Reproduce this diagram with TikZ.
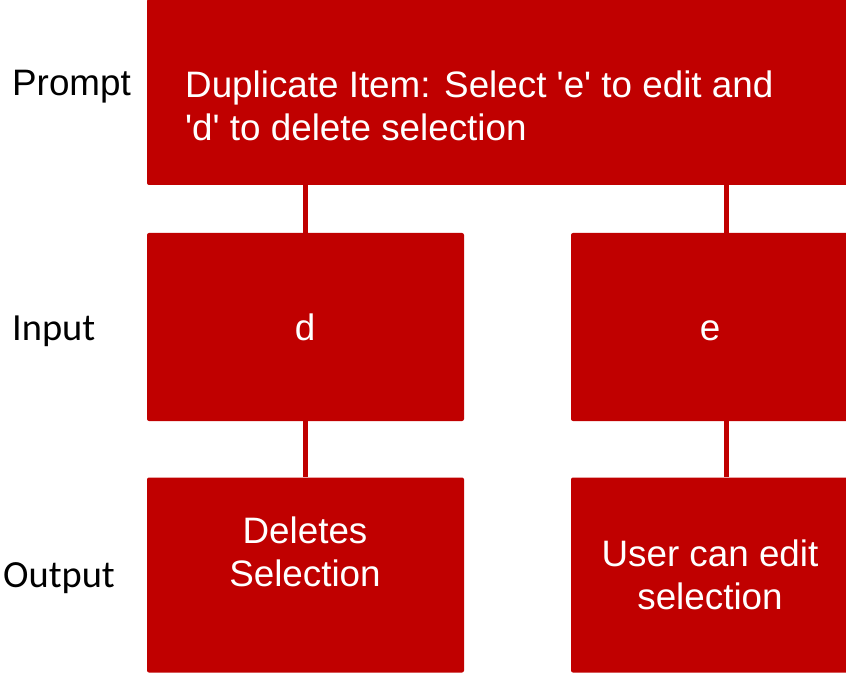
\documentclass[tikz,border=0pt]{standalone}
\usepackage{fontspec}
\setmainfont{Liberation Sans}[Ligatures=TeXOff]
\newfontfamily\rowfont{Carlito}
\definecolor{boxred}{HTML}{C00000}
\begin{document}
\begin{tikzpicture}[x=1pt,y=-1pt,
  box/.style={fill=boxred,draw=none,rounded corners=2pt,inner sep=0pt},
  link/.style={draw=boxred,line width=5pt},
  boxtext/.style={text=white,inner sep=0pt,font=\fontsize{36.8}{43}\selectfont},
  rowlabel/.style={text=black,inner sep=0pt,anchor=base west}]
\useasboundingbox (0,0) rectangle (846,676);
% boxes
\node[box,minimum width=713pt,minimum height=186pt] (top) at (503.5,92) {};
\node[box,minimum width=317pt,minimum height=188pt] (inD) at (305.5,327) {};
\node[box,minimum width=279pt,minimum height=188pt] (inE) at (710.5,327) {};
\node[box,minimum width=317pt,minimum height=195pt] (outD) at (305.5,575) {};
\node[box,minimum width=279pt,minimum height=195pt] (outE) at (710.5,575) {};
% connectors
\coordinate (jD) at (305,0);
\coordinate (jE) at (726,0);
\draw[link] (jD |- top.south) -- (jD |- inD.north);
\draw[link] (jE |- top.south) -- (jE |- inE.north);
\draw[link] (jD |- inD.south) -- (jD |- outD.north);
\draw[link] (jE |- inE.south) -- (jE |- outE.north);
% box texts
\node[boxtext,anchor=north west,align=left] (tPrompt) at (185,70.5)
  {Duplicate Item: Select 'e' to edit and\\'d' to delete selection};
\node[boxtext,anchor=base] (tD) at (305,341) {d};
\node[boxtext,anchor=base] (tE) at (710,341) {e};
\node[boxtext,anchor=north,align=center] (tDel) at (305,517) {Deletes\\Selection};
\node[boxtext,anchor=north,align=center] (tEdit) at (710,540) {User can edit\\selection};
% row labels
\node[rowlabel,font=\fontsize{36.8}{43}\selectfont] (lPrompt) at (12,96) {Prompt};
\node[rowlabel,font=\rowfont\fontsize{38.4}{46}\selectfont] (lInput) at (12,341) {Input};
\node[rowlabel,font=\rowfont\fontsize{38.4}{46}\selectfont] (lOutput) at (3,587) {Output};
\end{tikzpicture}
\end{document}
